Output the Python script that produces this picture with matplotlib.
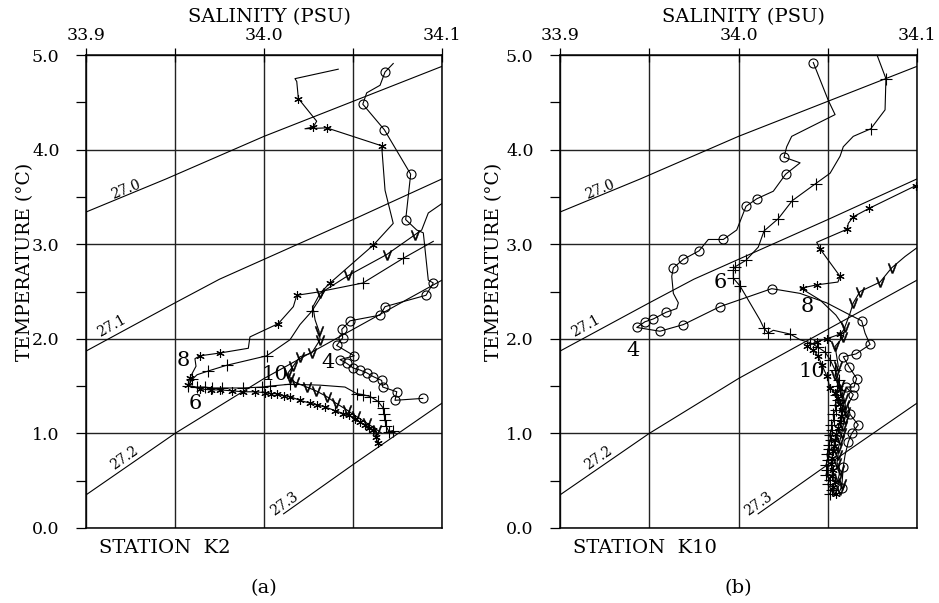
import matplotlib.pyplot as plt

plt.rcParams['font.family'] = 'DejaVu Serif'

# axis ticks
sal_ticks = [33.9, 34.0, 34.1]
sal_grid = [33.95, 34.05]
temp_ticks = [0, 1, 2, 3, 4, 5]
temp_minor = [0.5, 1.5, 2.5, 3.5, 4.5]

# sigma-theta isopycnals
sig_names = ['27.0', '27.1', '27.2', '27.3']
sig_s = [[33.9, 33.945, 34.0, 34.05, 34.1],
         [33.9, 33.95, 33.975, 34.0, 34.05, 34.1],
         [33.9, 33.95, 34.0, 34.05, 34.1],
         [34.011, 34.05, 34.1]]
sig_t = [[3.34, 3.69, 4.14, 4.51, 4.88],
         [1.87, 2.38, 2.63, 2.84, 3.26, 3.69],
         [0.35, 1.00, 1.58, 2.10, 2.62],
         [0.15, 0.67, 1.32]]
sig_lab_s = [33.9225, 33.9146, 33.9213, 34.0112]
sig_lab_t = [3.58, 2.13, 0.74, 0.25]
sig_rot = [22, 29, 35, 35]

# ---- station K2 ----
a4_s = [34.0726, 34.0680, 34.0652, 34.0577, 34.0555, 34.0676, 34.0824, 34.0796, 34.0858, 34.0895,
        34.0923, 34.0951, 34.0910, 34.0680, 34.0652, 34.0483, 34.0437, 34.0442, 34.0408, 34.0507,
        34.0427, 34.0465, 34.0502, 34.0539, 34.0577, 34.0614, 34.0661, 34.0667, 34.0746, 34.0736, 34.0892]
a4_t = [4.91, 4.82, 4.68, 4.60, 4.48, 4.21, 3.74, 3.26, 3.15, 3.12,
        2.62, 2.59, 2.46, 2.34, 2.25, 2.19, 2.10, 2.01, 1.93, 1.82,
        1.78, 1.74, 1.69, 1.67, 1.64, 1.60, 1.56, 1.49, 1.44, 1.35, 1.37]
a4_skip = [0, 2, 3, 8, 9, 10]

a6_s = [34.0951, 34.0781, 34.0556, 34.0343, 34.0268, 34.0202, 34.0146, 34.0015, 33.9790, 33.9687,
        33.9624, 33.9596, 33.9573, 33.9624, 33.9669, 33.9708, 33.9764, 33.9882, 33.9989, 34.0034,
        34.0146, 34.0315, 34.0455, 34.0522, 34.0556, 34.0596, 34.0640, 34.0669, 34.0674, 34.0680,
        34.0685, 34.0702, 34.0725]
a6_t = [3.03, 2.85, 2.59, 2.51, 2.29, 2.15, 1.99, 1.82, 1.72, 1.66,
        1.62, 1.57, 1.50, 1.49, 1.49, 1.48, 1.48, 1.48, 1.49, 1.50,
        1.52, 1.51, 1.49, 1.42, 1.41, 1.39, 1.34, 1.27, 1.21, 1.14,
        1.08, 1.02, 1.03]
a6_skip = [0, 3, 5, 6, 10, 21, 22]

a8_s = [34.0417, 34.0174, 34.0184, 34.0193, 34.0296, 34.0277, 34.0230, 34.0352, 34.0661, 34.0680,
        34.0726, 34.0614, 34.0371, 34.0324, 34.0184, 34.0165, 34.0080, 33.9921, 33.9912, 33.9753,
        33.9640, 33.9612, 33.9618, 33.9584, 33.9573, 33.9640, 33.9700, 33.9753, 33.9820, 33.9884,
        33.9950, 34.0006, 34.0040, 34.0071, 34.0110, 34.0146, 34.0200, 34.0258, 34.0300, 34.0343,
        34.0400, 34.0446, 34.0480, 34.0511, 34.0540, 34.0567, 34.0590, 34.0614, 34.0629, 34.0640]
a8_t = [4.85, 4.75, 4.72, 4.54, 4.30, 4.24, 4.22, 4.23, 4.04, 3.57,
        3.22, 2.99, 2.59, 2.50, 2.46, 2.34, 2.16, 2.02, 1.90, 1.85,
        1.82, 1.79, 1.71, 1.59, 1.51, 1.47, 1.46, 1.46, 1.45, 1.44,
        1.44, 1.43, 1.42, 1.42, 1.40, 1.39, 1.35, 1.32, 1.30, 1.28,
        1.24, 1.21, 1.19, 1.15, 1.12, 1.09, 1.06, 1.04, 0.96, 0.90]
a8_skip = [0, 1, 2, 4, 6, 9, 10, 13, 15, 17, 18, 21, 22]

a10_s = [34.1000, 34.0923, 34.0886, 34.0848, 34.0689, 34.0474, 34.0315, 34.0275, 34.0287, 34.0309,
         34.0315, 34.0268, 34.0202, 34.0163, 34.0135, 34.0146, 34.0174, 34.0240, 34.0292, 34.0352,
         34.0404, 34.0464, 34.0517, 34.0577, 34.0633, 34.0663]
a10_t = [3.43, 3.33, 3.15, 3.10, 2.89, 2.67, 2.48, 2.34, 2.20, 2.08,
         1.99, 1.85, 1.81, 1.71, 1.64, 1.59, 1.54, 1.49, 1.45, 1.39,
         1.32, 1.25, 1.18, 1.11, 1.04, 1.00]
a10_skip = [0, 1, 2, 7, 8, 25]

# ---- station K10 ----
b4_s = [34.0419, 34.0503, 34.0541, 34.0298, 34.0270, 34.0255, 34.0345, 34.0264, 34.0195, 34.0102,
        34.0042, 33.9990, 33.9915, 33.9831, 33.9779, 33.9691, 33.9635, 33.9626, 33.9635, 33.9663,
        33.9654, 33.9594, 33.9523, 33.9476, 33.9430, 33.9560, 33.9691, 33.9896, 34.0186, 34.0345,
        34.0494, 34.0606, 34.0690, 34.0709, 34.0737, 34.0658, 34.0587, 34.0621, 34.0662, 34.0647,
        34.0602, 34.0643, 34.0613, 34.0625, 34.0671, 34.0634, 34.0615, 34.0597, 34.0587, 34.0578]
b4_t = [4.92, 4.52, 4.37, 4.14, 4.03, 3.92, 3.86, 3.74, 3.56, 3.48,
        3.40, 3.15, 3.05, 3.05, 2.93, 2.84, 2.75, 2.66, 2.48, 2.38,
        2.32, 2.28, 2.21, 2.18, 2.12, 2.08, 2.15, 2.34, 2.53, 2.48,
        2.38, 2.27, 2.19, 2.06, 1.94, 1.84, 1.81, 1.70, 1.58, 1.49,
        1.49, 1.41, 1.30, 1.20, 1.09, 1.00, 0.91, 0.77, 0.65, 0.42]
b4_skip = [1, 2, 3, 4, 6, 8, 11, 13, 17, 18, 19, 20, 29, 30, 31, 33, 42, 47]

b6_s = [34.0778, 34.0826, 34.0821, 34.0741, 34.0643, 34.0587, 34.0569, 34.0513, 34.0432, 34.0301,
        34.0223, 34.0143, 34.0111, 34.0042, 33.9980, 33.9971, 33.9971, 34.0008, 34.0064, 34.0120,
        34.0143, 34.0167, 34.0195, 34.0289, 34.0345, 34.0401, 34.0446, 34.0485, 34.0513, 34.0541,
        34.0563, 34.0552, 34.0569, 34.0548, 34.0558, 34.0540, 34.0547, 34.0530, 34.0535, 34.0520,
        34.0524, 34.0510, 34.0518, 34.0505, 34.0507, 34.0495, 34.0501, 34.0490, 34.0496, 34.0490,
        34.0513, 34.0500, 34.0524, 34.0510]
b6_t = [4.99, 4.75, 4.42, 4.22, 4.14, 4.03, 3.93, 3.75, 3.64, 3.46,
        3.27, 3.14, 2.97, 2.83, 2.76, 2.73, 2.64, 2.56, 2.38, 2.20,
        2.11, 2.06, 2.09, 2.05, 1.99, 1.96, 1.91, 1.86, 1.78, 1.67,
        1.56, 1.50, 1.46, 1.41, 1.35, 1.30, 1.25, 1.20, 1.14, 1.09,
        1.04, 0.98, 0.93, 0.88, 0.83, 0.78, 0.72, 0.67, 0.61, 0.56,
        0.51, 0.46, 0.40, 0.36]
b6_skip = [0, 2, 4, 5, 6, 7, 12, 18, 19, 22, 24]

b8_s = [34.0994, 34.0733, 34.0643, 34.0615, 34.0610, 34.0438, 34.0457, 34.0569, 34.0557, 34.0438,
        34.0363, 34.0345, 34.0457, 34.0546, 34.0597, 34.0569, 34.0494, 34.0438, 34.0382, 34.0419,
        34.0445, 34.0468, 34.0494, 34.0513, 34.0540, 34.0558, 34.0570, 34.0580, 34.0575, 34.0569,
        34.0560, 34.0547, 34.0540, 34.0535, 34.0528, 34.0524, 34.0520, 34.0530, 34.0522, 34.0541,
        34.0530, 34.0547]
b8_t = [3.62, 3.38, 3.29, 3.22, 3.16, 3.02, 2.95, 2.66, 2.60, 2.57,
        2.54, 2.54, 2.41, 2.25, 2.11, 2.05, 2.00, 1.97, 1.92, 1.88,
        1.82, 1.72, 1.61, 1.48, 1.43, 1.37, 1.31, 1.25, 1.18, 1.12,
        1.06, 0.99, 0.93, 0.87, 0.81, 0.74, 0.68, 0.61, 0.55, 0.49,
        0.43, 0.36]
b8_skip = [3, 5, 8, 11, 12, 13, 14]

b10_s = [34.0998, 34.0933, 34.0858, 34.0793, 34.0737, 34.0681, 34.0643, 34.0625, 34.0597, 34.0587,
         34.0541, 34.0559, 34.0541, 34.0569, 34.0580, 34.0591, 34.0598, 34.0602, 34.0595, 34.0586,
         34.0578, 34.0569, 34.0560, 34.0558, 34.0552, 34.0569, 34.0560, 34.0580, 34.0570]
b10_t = [2.96, 2.87, 2.75, 2.60, 2.55, 2.50, 2.38, 2.27, 2.13, 2.02,
         1.92, 1.71, 1.62, 1.51, 1.44, 1.37, 1.30, 1.23, 1.15, 1.08,
         1.00, 0.93, 0.85, 0.77, 0.69, 0.61, 0.53, 0.46, 0.40]
b10_skip = [0, 1, 4, 7]

# cast labels (month numbers)
a_lab = ['8', '6', '10', '4']
a_lab_s = [33.9545, 33.9612, 34.0062, 34.0360]
a_lab_t = [1.77, 1.32, 1.62, 1.75]
b_lab = ['6', '8', '4', '10']
b_lab_s = [33.9896, 34.0384, 33.9409, 34.0412]
b_lab_t = [2.60, 2.34, 1.88, 1.65]

styles = {'o': dict(marker='o', ms=6.5, mfc='none', mew=0.8),
          '+': dict(marker='+', ms=8, mew=0.8),
          '*': dict(marker=(6, 2, 0), ms=6, mew=0.8),
          'v': dict(marker=r'$\mathrm{V}$', ms=7, mfc='k', mew=0.35)}


def plot_cast(ax, s, t, skip, kind):
    keep = [i for i in range(len(s)) if i not in skip]
    ax.plot(s, t, color='k', lw=0.8, markevery=keep, mec='k', **styles[kind])


def setup(ax, station, letter, xmid, ylab_x):
    ax.set_xlim(33.9, 34.1)
    ax.set_ylim(0, 5)
    ax.xaxis.tick_top()
    ax.set_xticks(sal_ticks)
    ax.set_xticklabels(['%.1f' % v for v in sal_ticks])
    ax.set_xticks(sal_grid, minor=True)
    ax.set_yticks(temp_ticks)
    ax.set_yticklabels(['%.1f' % v for v in temp_ticks])
    ax.set_yticks(temp_minor, minor=True)
    ax.tick_params(axis='x', which='both', direction='inout', length=10, width=0.9,
                   top=True, bottom=False, labelsize=12.5, pad=3)
    ax.tick_params(axis='y', which='both', direction='out', length=7, width=0.9,
                   left=True, right=False, labelsize=12.5, pad=12)
    ax.xaxis.grid(True, which='both', color='#222222', lw=1.0)
    ax.yaxis.grid(True, which='major', color='#222222', lw=1.0)
    for sp in ax.spines.values():
        sp.set_linewidth(1.1)
    for ss, tt in zip(sig_s, sig_t):
        ax.plot(ss, tt, color='k', lw=0.8)
    for name, ls, lt, rot in zip(sig_names, sig_lab_s, sig_lab_t, sig_rot):
        ax.text(ls, lt, name, fontsize=10, rotation=rot, ha='center', va='center',
                rotation_mode='anchor')
    ax.text(0.037, -0.053, station, transform=ax.transAxes, fontsize=14, va='baseline')
    fig.text(xmid, 1 - 588 / 603, letter, fontsize=14, ha='center', va='center')
    fig.text(xmid + 0.006, 1 - 17 / 603, 'SALINITY (PSU)', fontsize=14, ha='center', va='center')
    fig.text(ylab_x, 1 - 262 / 603, 'TEMPERATURE (°C)', fontsize=13.5, rotation=90,
             ha='center', va='center')


fig = plt.figure(figsize=(9.39, 6.03), dpi=100)
ax1 = fig.add_axes([86 / 939, 75 / 603, 356 / 939, 473 / 603])
ax2 = fig.add_axes([560 / 939, 75 / 603, 357 / 939, 473 / 603])

setup(ax1, 'STATION  K2', '(a)', 264 / 939, 25 / 939)
setup(ax2, 'STATION  K10', '(b)', 738 / 939, 494 / 939)

plot_cast(ax1, a4_s, a4_t, a4_skip, 'o')
plot_cast(ax1, a6_s, a6_t, a6_skip, '+')
plot_cast(ax1, a8_s, a8_t, a8_skip, '*')
plot_cast(ax1, a10_s, a10_t, a10_skip, 'v')
for lab, ls, lt in zip(a_lab, a_lab_s, a_lab_t):
    ax1.text(ls, lt, lab, fontsize=15, ha='center', va='center')

plot_cast(ax2, b4_s, b4_t, b4_skip, 'o')
plot_cast(ax2, b6_s, b6_t, b6_skip, '+')
plot_cast(ax2, b8_s, b8_t, b8_skip, '*')
plot_cast(ax2, b10_s, b10_t, b10_skip, 'v')
for lab, ls, lt in zip(b_lab, b_lab_s, b_lab_t):
    ax2.text(ls, lt, lab, fontsize=15, ha='center', va='center')

fig.savefig('out.png', dpi=100)
